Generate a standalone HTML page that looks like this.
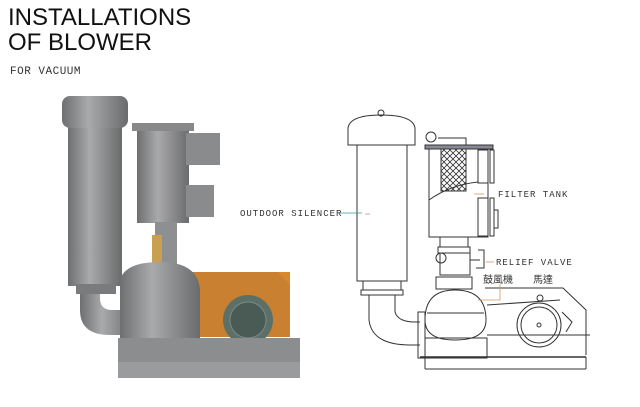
<!DOCTYPE html>
<html><head><style>
html,body{margin:0;padding:0;background:#fff;width:640px;height:407px;overflow:hidden;}
svg{display:block;}
text{font-family:"Liberation Mono","Noto Sans CJK TC",monospace;}
</style></head><body>
<svg width="640" height="407" viewBox="0 0 640 407">
<defs>
<linearGradient id="g" x1="0" x2="1"><stop offset="0" stop-color="#6e6f70"/><stop offset="0.4" stop-color="#a9aaab"/><stop offset="1" stop-color="#6a6b6c"/></linearGradient>
<pattern id="h" width="6" height="6" patternUnits="userSpaceOnUse"><path d="M0 0L6 6M6 0L0 6" stroke="#333" stroke-width="0.8"/></pattern>
</defs>
<text x="8" y="25" font-size="24" fill="#111" style="font-family:'Liberation Sans',sans-serif">INSTALLATIONS</text>
<text x="8" y="50" font-size="24" fill="#111" style="font-family:'Liberation Sans',sans-serif">OF BLOWER</text>
<text x="10" y="74" font-size="11" fill="#333" letter-spacing="0.5">FOR  VACUUM</text>

<!-- photo -->
<rect x="186" y="272" width="104" height="65" fill="#d88a2a"/>
<path d="M186 272 L278 272 L290 285 L290 337 L186 337Z" fill="#c98030"/>
<rect x="68" y="126" width="54" height="160" fill="url(#g)"/>
<rect x="62" y="96" width="66" height="32" rx="8" fill="url(#g)"/>
<path d="M80 285 L80 310 Q80 335 110 335 L135 335 L135 310 L112 310 Q100 310 100 298 L100 285Z" fill="url(#g)"/>
<rect x="76" y="284" width="40" height="10" fill="#7a7b7c"/>
<rect x="137" y="128" width="52" height="95" fill="url(#g)"/>
<rect x="132" y="123" width="62" height="8" fill="#888"/>
<rect x="186" y="133" width="34" height="32" fill="#8a8b8c"/>
<rect x="186" y="185" width="28" height="32" fill="#8a8b8c"/>
<rect x="155" y="222" width="22" height="45" fill="#8e8f90"/>
<rect x="152" y="235" width="10" height="30" fill="#c9a050"/>
<path d="M120 280 Q125 262 160 262 Q198 262 200 290 L200 340 L120 340Z" fill="url(#g)"/>
<circle cx="248" cy="320" r="25" fill="#5d7068"/>
<circle cx="248" cy="320" r="18" fill="#4a5a54" stroke="#7a8a84"/>
<rect x="118" y="338" width="182" height="40" fill="#8c8d8e"/>
<rect x="118" y="362" width="182" height="16" fill="#9a9b9c"/>

<!-- drawing -->
<g fill="none" stroke="#333" stroke-width="1">
<path d="M348 145 L348 128 Q350 115 381 115 Q413 115 415 128 L415 145Z"/>
<circle cx="381" cy="113" r="3"/>
<rect x="357" y="145" width="50" height="136"/>
<rect x="363" y="281" width="38" height="9"/>
<rect x="361" y="290" width="42" height="5"/>
<path d="M369 295 L369 320 Q372 345 410 345 L420 345 M395 295 L395 312 Q398 322 415 322 L420 322"/>
<rect x="429" y="148" width="59" height="89"/>
<rect x="425" y="145" width="68" height="4" fill="#889"/>
<rect x="441" y="149" width="25" height="42" fill="url(#h)"/>
<path d="M429 200 Q450 185 478 182"/>
<circle cx="431" cy="137" r="5"/><path d="M438 138 L466 138 L466 145"/>
<rect x="478" y="150" width="10" height="33"/><rect x="490" y="150" width="4" height="33"/>
<rect x="478" y="198" width="10" height="38"/><rect x="490" y="198" width="4" height="38"/><path d="M494 210 L498 210 L498 228 L494 228"/>
<rect x="440" y="237" width="28" height="10"/>
<rect x="438" y="247" width="32" height="6"/>
<path d="M440 253 L440 275 L470 275 L470 253"/>
<circle cx="441" cy="258" r="5"/>
<path d="M470 260 L480 260 M478 250 L484 250 L484 268 L476 268"/>
<rect x="436" y="277" width="36" height="12"/>
<path d="M425 320 Q425 290 455 290 Q486 290 486 320 Q486 340 455 340 Q425 340 425 320Z"/>
<path d="M427 313 L484 313"/>
<rect x="418" y="312" width="7" height="46"/>
<rect x="425" y="338" width="62" height="20"/>
<path d="M485 288 L563 288 L586 310 L586 355"/>
<path d="M487 305 L560 300 M487 335 L590 335"/>
<circle cx="539" cy="325" r="22"/><circle cx="539" cy="325" r="18"/><circle cx="539" cy="325" r="2"/>
<circle cx="540" cy="298" r="3"/>
<path d="M562 312 L572 322 L566 332"/>
<path d="M420 357 L586 357" stroke-width="1.5"/>
<path d="M425 369 L586 369 M425 357 L425 369 M586 357 L586 369"/>
</g>
<g stroke="#c96" stroke-width="0.8" fill="none"><path d="M365 214 L370 214"/><path d="M474 194 L484 194"/><path d="M486 262 L494 262"/><path d="M478 300 L500 300 L500 284"/></g>
<path d="M340 213 L362 213" stroke="#399" stroke-width="0.8"/>
<g font-size="9" fill="#333" letter-spacing="1">
<text x="240" y="216">OUTDOOR SILENCER</text>
<text x="498" y="197">FILTER TANK</text>
<text x="496" y="265">RELIEF VALVE</text>
</g>
<text x="483" y="283" font-size="10" fill="#333">鼓風機</text>
<text x="533" y="283" font-size="10" fill="#333">馬達</text>
</svg>
</body></html>
